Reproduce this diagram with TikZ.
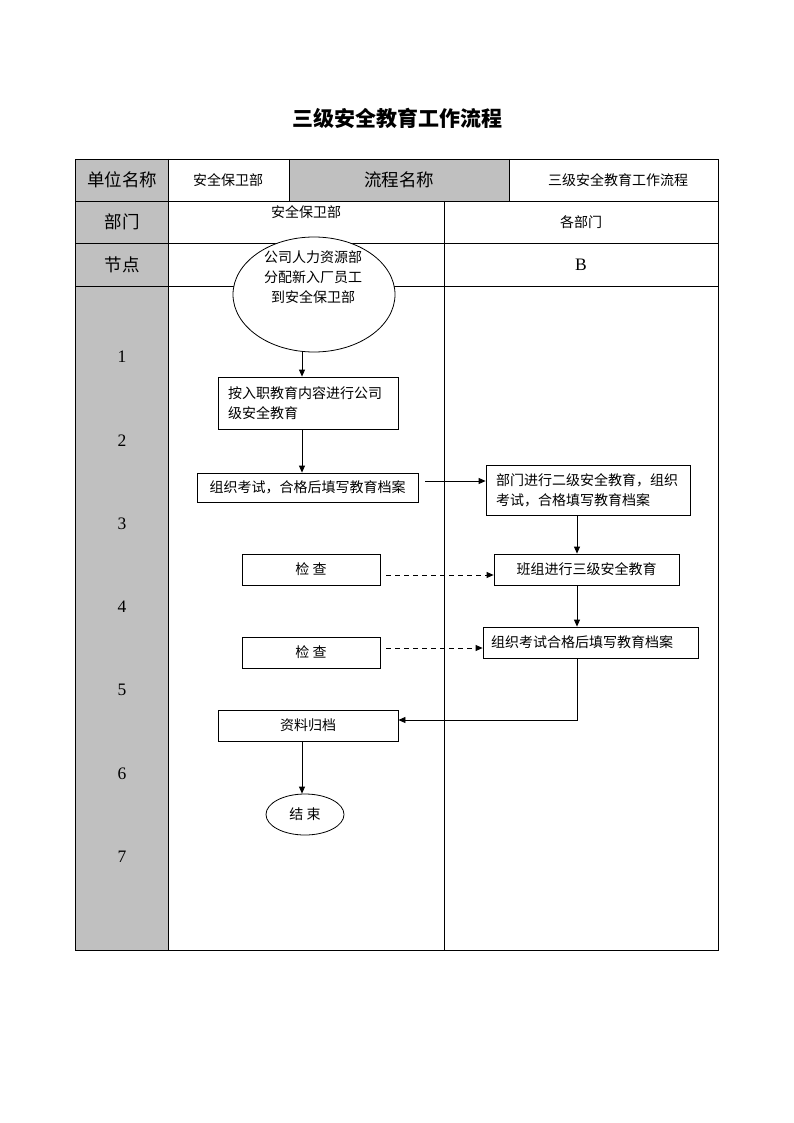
\documentclass[tikz,border=0pt]{standalone}
\usepackage{fontspec}
\setmainfont{Noto Sans CJK SC}
\newfontfamily\numfont{Liberation Serif}
\usetikzlibrary{shapes.geometric,arrows.meta}
\definecolor{cellgray}{RGB}{192,192,192}
\begin{document}
\begin{tikzpicture}[x=1pt, y=-1pt, >={Triangle[length=7pt,width=6pt]},
    box/.style={draw, line width=0.8pt, fill=white, inner sep=0pt, font=\fontsize{14}{20}\selectfont},
    txt/.style={font=\fontsize{14}{20}\selectfont},
    head/.style={font=\fontsize{17.5}{20}\selectfont},
    num/.style={font=\numfont\fontsize{17.5}{20}\selectfont},
    arr/.style={->, line width=0.8pt},
    darr/.style={->, line width=0.8pt, dash pattern=on 5pt off 4pt}]
    \useasboundingbox (0,0) rectangle (794,1123);
    % 标题
    \node[font=\fontsize{21}{24}\selectfont\bfseries] (title) at (397,118) {三级安全教育工作流程};
    % 表格底色
    \fill[cellgray] (75,159) rectangle (168,950);
    \fill[cellgray] (289,159) rectangle (509,201);
    % 表格线
    \draw[line width=0.8pt] (75,159) rectangle (718,950);
    \draw[line width=0.8pt] (75,201) -- (718,201);
    \draw[line width=0.8pt] (75,243) -- (718,243);
    \draw[line width=0.8pt] (75,286) -- (718,286);
    \draw[line width=0.8pt] (168,159) -- (168,950);
    \draw[line width=0.8pt] (289,159) -- (289,201);
    \draw[line width=0.8pt] (509,159) -- (509,201);
    \draw[line width=0.8pt] (444,201) -- (444,950);
    % 表头
    \node[head] (unitlbl) at (122,180) {单位名称};
    \node[txt] (unit) at (228,180) {安全保卫部};
    \node[head] (proclbl) at (399,180) {流程名称};
    \node[txt] (proc) at (618,180) {三级安全教育工作流程};
    \node[head] (deptlbl) at (122,222) {部门};
    \node[txt] (deptA) at (306,212) {安全保卫部};
    \node[txt] (deptB) at (581,222) {各部门};
    \node[head] (nodelbl) at (122,265) {节点};
    \node[num] (colB) at (581,265) {B};
    % 节点编号
    \foreach \i in {1,...,7}
        \node[num] (n\i) at (122,{357+83.3*(\i-1)}) {\i};
    % 泳道列
    \coordinate (laneA) at (302,0);
    \coordinate (laneB) at (577,0);
    % 开始
    \node[draw, ellipse, line width=0.8pt, fill=white, minimum width=162pt, minimum height=115pt] (start) at (314,294.5) {};
    \node[txt, align=center] (startlbl) at (313,277) {公司人力资源部\\分配新入厂员工\\到安全保卫部};
    % 安全保卫部
    \node[box, minimum width=180pt, minimum height=52pt, text width=160pt, align=left] (edu1) at (308,403) {按入职教育内容进行公司\\级安全教育};
    \node[box, minimum width=221pt, minimum height=29pt] (exam1) at (307.5,487.5) {组织考试，合格后填写教育档案};
    \node[box, minimum width=138pt, minimum height=31pt] (chk1) at (311,569.5) {检\ 查};
    \node[box, minimum width=138pt, minimum height=31pt] (chk2) at (311,652.5) {检\ 查};
    \node[box, minimum width=180pt, minimum height=31pt] (arch) at (308,725.5) {资料归档};
    \node[draw, ellipse, line width=0.8pt, fill=white, minimum width=78pt, minimum height=41pt, txt] (end) at (305,814.5) {结\ 束};
    % 各部门
    \node[box, minimum width=204pt, minimum height=50pt, text width=184pt, align=left] (edu2) at (588,490) {部门进行二级安全教育，组织\\考试，合格填写教育档案};
    \node[box, minimum width=185pt, minimum height=31pt] (edu3) at (586.5,569.5) {班组进行三级安全教育};
    \node[box, minimum width=215pt, minimum height=31pt, text width=199pt, align=left] (exam3) at (590.5,642.5) {组织考试合格后填写教育档案};
    % 连线
    \draw[arr] (start.south -| laneA) -- (edu1.north -| laneA);
    \draw[arr] (edu1.south -| laneA) -- (exam1.north -| laneA);
    \draw[arr] ([shift={(7,-6.5)}]exam1.east) coordinate (p1) -- (p1 -| edu2.west);
    \draw[arr] (edu2.south -| laneB) -- (edu3.north -| laneB);
    \draw[arr] (edu3.south -| laneB) -- (exam3.north -| laneB);
    \draw[darr] ([shift={(6,5.5)}]chk1.east) coordinate (p2) -- (p2 -| edu3.west);
    \draw[darr] ([shift={(6,-4.5)}]chk2.east) coordinate (p3) -- (p3 -| exam3.west);
    \draw[arr] (exam3.south -| laneB) |- ([yshift=5.5pt]arch.east);
    \draw[arr] (arch.south -| laneA) -- (end.north -| laneA);
\end{tikzpicture}
\end{document}
